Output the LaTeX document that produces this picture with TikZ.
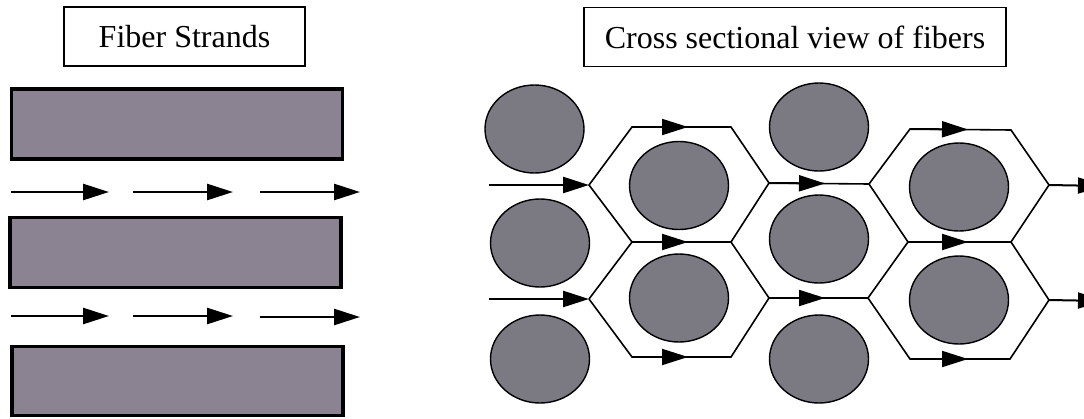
\documentclass[tikz,border=0pt]{standalone}
\usepackage{fontspec}
\setmainfont{Liberation Serif}
\usetikzlibrary{arrows.meta,shapes.geometric}
\definecolor{strandfill}{RGB}{139,131,146}
\definecolor{fiberfill}{RGB}{123,121,130}
\tikzset{
  titlebox/.style={draw=black, line width=1.2pt, fill=white, inner sep=0pt, font=\fontsize{32}{36}\selectfont, minimum height=59pt},
  strand/.style={draw=black, line width=3.5pt, fill=strandfill, inner sep=0pt},
  fiber/.style={ellipse, draw=black, line width=1.4pt, fill=fiberfill, minimum width=99pt, minimum height=88pt, inner sep=0pt},
  flow/.style={line width=2.6pt, -{Triangle[length=26pt,width=16pt]}},
  hexline/.style={line width=1.6pt, line join=miter},
  edgearrow/.style={line width=2pt, -{Triangle[length=26pt,width=16pt]}}
}
\begin{document}
\begin{tikzpicture}[x=1pt,y=-1pt]
\useasboundingbox (0,0) rectangle (1084,418);
% titles
\node[titlebox, minimum width=241pt] (t1) at (184.5,36.5) {Fiber Strands};
\node[titlebox, minimum width=422pt] (t2) at (795,37) {Cross sectional view of fibers};
% strands
\node[strand, minimum width=331pt, minimum height=70pt] (s1) at (177,124) {};
\node[strand, minimum width=331pt, minimum height=70pt] (s2) at (175.5,252.5) {};
\node[strand, minimum width=331pt, minimum height=69pt] (s3) at (177.5,381) {};
% left flow arrows
\coordinate (a1s) at (11,192); \coordinate (a1e) at (109,192);
\coordinate (a2s) at (133,192); \coordinate (a2e) at (233,192);
\coordinate (a3s) at (260,192); \coordinate (a3e) at (360,192);
\coordinate (b1s) at (11,316); \coordinate (b1e) at (109,316);
\coordinate (b2s) at (133,316); \coordinate (b2e) at (233,316);
\coordinate (b3s) at (260,317); \coordinate (b3e) at (360,317);
\foreach \p in {a1,a2,a3,b1,b2,b3}{\draw[flow] (\p s) -- (\p e);}
% fibers
\node[fiber] (c11) at (534.5,129) {};
\node[fiber] (c12) at (540,243) {};
\node[fiber] (c13) at (540,359) {};
\node[fiber] (c21) at (679,185.5) {};
\node[fiber] (c22) at (679,298) {};
\node[fiber] (c31) at (819,127) {};
\node[fiber] (c32) at (819,239) {};
\node[fiber] (c33) at (819,359) {};
\node[fiber] (c41) at (959,187) {};
\node[fiber] (c42) at (959,300) {};
% hexagon vertices
\coordinate (L1) at (589,185); \coordinate (TL1) at (632,127); \coordinate (TR1) at (731,127);
\coordinate (R1) at (769,183); \coordinate (BR1) at (731,242); \coordinate (BL1) at (632,242);
\coordinate (L2) at (589,299); \coordinate (R2) at (769,298);
\coordinate (BR2) at (731,357); \coordinate (BL2) at (632,357);
\coordinate (L3) at (869,184); \coordinate (TL3) at (910,129); \coordinate (TR3) at (1011,130);
\coordinate (R3) at (1049,185); \coordinate (BR3) at (1011,242); \coordinate (BL3) at (908,242);
\coordinate (L4) at (868,298); \coordinate (R4) at (1049,300);
\coordinate (BR4) at (1010,359); \coordinate (BL4) at (910,359);
% hexagons
\draw[hexline] (L1) -- (TL1) -- (TR1) -- (R1) -- (BR1) -- (BL1) -- cycle;
\draw[hexline] (L2) -- (BL1) (BR1) -- (R2) -- (BR2) -- (BL2) -- (L2);
\draw[hexline] (L3) -- (TL3) -- (TR3) -- (R3) -- (BR3) -- (BL3) -- cycle;
\draw[hexline] (L4) -- (BL3) (BR3) -- (R4) -- (BR4) -- (BL4) -- (L4);
\draw[hexline] (R1) -- (L3) (R2) -- (L4);
% arrows along edges
\coordinate (i1) at (489,185); \coordinate (i2) at (489,299);
\draw[flow] (i1) -- (L1);
\draw[flow] (i2) -- (L2);
\coordinate (m1) at (688,127); \coordinate (m2) at (688,242); \coordinate (m3) at (688,357);
\draw[edgearrow] (TL1) -- (m1);
\draw[edgearrow] (BL1) -- (m2);
\draw[edgearrow] (BL2) -- (m3);
\coordinate (n1) at (825,183.5); \coordinate (n2) at (825,298);
\draw[edgearrow] (R1) -- (n1);
\draw[edgearrow] (R2) -- (n2);
\coordinate (p1) at (968,129.5); \coordinate (p2) at (968,242); \coordinate (p3) at (968,359);
\draw[edgearrow] (TL3) -- (p1);
\draw[edgearrow] (BL3) -- (p2);
\draw[edgearrow] (BL4) -- (p3);
\coordinate (o1) at (1104,186); \coordinate (o2) at (1104,301);
\draw[edgearrow] (R3) -- (o1);
\draw[edgearrow] (R4) -- (o2);
\end{tikzpicture}
\end{document}
